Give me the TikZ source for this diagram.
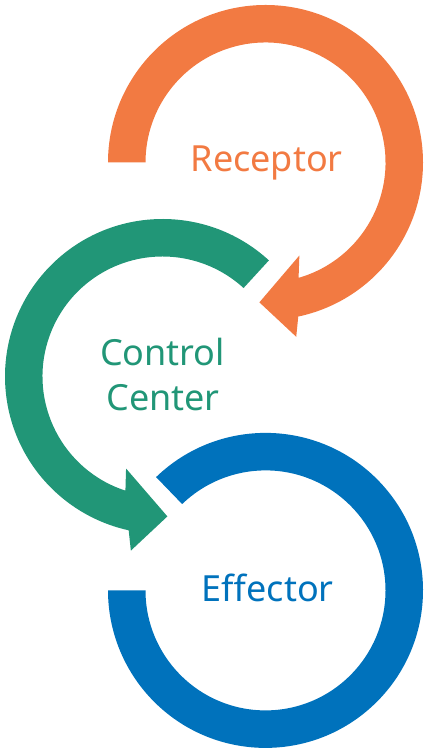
\documentclass[tikz,border=0pt]{standalone}
\definecolor{fbkorange}{RGB}{242,122,66}
\definecolor{fbkgreen} {RGB}{33,150,119}
\definecolor{fbkblue}  {RGB}{0,114,188}
\usepackage{fontspec}
\setmainfont{Noto Sans}
\usepackage{tikz}
\usetikzlibrary{positioning,calc}
\tikzset{
  loop/.style={fill=#1},
  loop/.default=fbkblue,
  lbl/.style={font=\fontsize{36}{44}\selectfont,text=#1,inner sep=0pt,anchor=base},
  lbl/.default=fbkblue,
}

\begin{document}
\begin{tikzpicture}[x=1pt,y=1pt]
    \useasboundingbox (0,0) rectangle (429,754);
    \coordinate (rc) at (265.5,591.5);
    \coordinate (cc) at (162.5,377.5);
    \coordinate (ec) at (265.5,163.6);
    % receptor loop, clockwise
    \begin{scope}[shift={(rc)}]
      \fill[loop=fbkorange] (180:157.5) arc[start angle=180,end angle=-78,radius=157.5]
        -- (-80:177) -- (-92.5:140) -- (-70:99) -- (-74:120)
        arc[start angle=-74,end angle=180,radius=120] -- cycle;
    \end{scope}
    % control centre loop, anticlockwise
    \begin{scope}[shift={(cc)}]
      \fill[loop=fbkgreen] (47.5:157.5) arc[start angle=47.5,end angle=257.6,radius=157.5]
        -- (259.7:177) -- (272:140) -- (248.4:99) -- (252:120)
        arc[start angle=252,end angle=47.5,radius=120] -- cycle;
    \end{scope}
    % effector loop
    \begin{scope}[shift={(ec)}]
      \fill[loop=fbkblue] (134:157.5) arc[start angle=134,end angle=-180,radius=157.5]
        -- (180:120) arc[start angle=-180,end angle=134,radius=120] -- cycle;
    \end{scope}
    \node[lbl=fbkorange] (receptor) at (266.7,582) {Receptor};
    \node[lbl=fbkgreen]  (control)  at (162.5,388) {Control};
    \node[lbl=fbkgreen]  (center)   at (163,343)   {Center};
    \node[lbl=fbkblue]   (effector) at (267.7,152) {Effector};
\end{tikzpicture}
\end{document}
